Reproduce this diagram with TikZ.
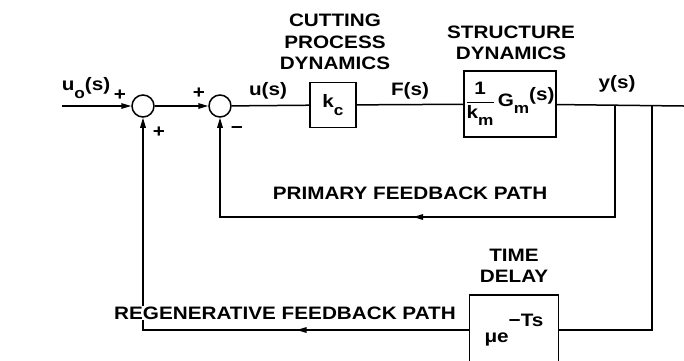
\documentclass[tikz,border=0pt]{standalone}
\usepackage{fontspec}
\setmainfont{Liberation Sans}[FakeStretch=1.15]
\usetikzlibrary{arrows.meta,decorations.markings}
\newcommand{\lowtxt}[1]{\raisebox{-.4em}{\fontsize{15}{15}\selectfont #1}}

\begin{document}
\begin{tikzpicture}[x=1pt,y=-1pt,>={Triangle[length=10pt,width=5.5pt]},line width=1.5pt,
  every node/.style={font=\fontsize{18}{21.5}\selectfont\bfseries},
  sumpt/.style={draw,circle,minimum size=22pt,inner sep=0pt},
  block/.style={draw,rectangle,inner sep=0pt},
  midarrow/.style={postaction={decorate},
    decoration={markings,mark=at position #1 with {\arrow{>}}}}]
  \useasboundingbox (0,0) rectangle (684,360);
  \clip (0,0) rectangle (684,360);
  % pixel units, y pointing down
  \node[sumpt] (S1) at (143,106) {};
  \node[sumpt] (S2) at (220,106) {};
  \node[block,minimum width=46pt,minimum height=45pt] (KC) at (333,105) {k\lowtxt{c}};
  \node[block,minimum width=92pt,minimum height=66pt] (GM) at (510,104)
    {$\displaystyle\frac{\hbox{1}}{\hbox{k\lowtxt{m}}}$\,G\lowtxt{m}\raisebox{.35em}{(s)}};
  \node[block,minimum width=89pt,minimum height=70pt] (TD) at (514,330)
    {\raisebox{-.3em}{μe}\raisebox{.55em}{−Ts}};

  \coordinate (U0) at (62,106);
  \coordinate (Y) at (684,106);
  \coordinate (P) at (615,106);
  \coordinate (R) at (652,106);

  \draw[->] (U0) -- (S1.west);
  \draw[->] (S1) -- (S2);
  \draw (S2) -- (KC);
  \draw (KC) -- (GM);
  \draw (GM) -- (Y);
  \draw[->,midarrow=0.517] (P) -- ++(0,111) -| (S2.south);
  \draw (R) |- (TD.east);
  \draw[->,midarrow=0.32] (TD.west) -| (S1.south);

  \node at (86,88) {u\lowtxt{o}(s)};
  \node at (120,95) {+};
  \node at (159,132) {+};
  \node at (199,93) {+};
  \node at (237,130) {−};
  \node at (268,91) {u(s)};
  \node at (410,91) {F(s)};
  \node at (617,84) {y(s)};
  \node[align=center] (CP) at (335,42) {CUTTING\\PROCESS\\DYNAMICS};
  \node[align=center] (SD) at (511,43) {STRUCTURE\\DYNAMICS};
  \node[align=center] (TL) at (514,266) {TIME\\DELAY};
  \node (PF) at (410,193) {PRIMARY FEEDBACK PATH};
  \node[fill=white,inner sep=1pt] (RF) at (285,313) {REGENERATIVE FEEDBACK PATH};
\end{tikzpicture}
\end{document}
